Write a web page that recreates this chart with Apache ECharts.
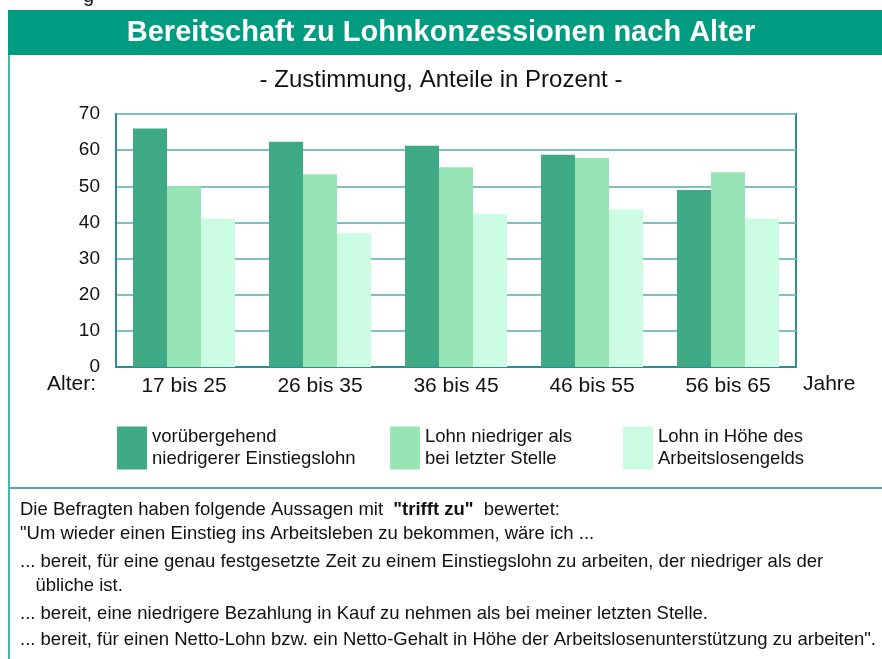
<!DOCTYPE html>
<html lang="de">
<head>
  <meta charset="UTF-8">
  <title>Bereitschaft zu Lohnkonzessionen nach Alter</title>
  <script src="https://cdn.jsdelivr.net/npm/echarts@6/dist/echarts.min.js"></script>
  <style>
    html, body { margin: 0; padding: 0; background: #fff; }
    #main { width: 882px; height: 659px; }
  </style>
</head>
<body>
<div id="main"></div>
<script>
  var myChart = echarts.init(document.getElementById('main'));

  // Altersgruppen
  const ageGroups = ['17 bis 25', '26 bis 35', '36 bis 45', '46 bis 55', '56 bis 65'];
  // Zustimmung in Prozent
  const einstiegslohn = [66, 62.3, 61.2, 58.7, 49];
  const letzteStelle = [50, 53.3, 55.3, 57.8, 53.9];
  const arbeitslosengeld = [41.1, 37, 42.4, 43.6, 41.1];
  const seriesNames = [
    'vorübergehend niedrigerer Einstiegslohn',
    'Lohn niedriger als bei letzter Stelle',
    'Lohn in Höhe des Arbeitslosengelds'
  ];
  const legendText = [
    'vorübergehend\nniedrigerer Einstiegslohn',
    'Lohn niedriger als\nbei letzter Stelle',
    'Lohn in Höhe des\nArbeitslosengelds'
  ];
  const yTicks = [0, 10, 20, 30, 40, 50, 60, 70];
  const footerLines = [
    '"Um wieder einen Einstieg ins Arbeitsleben zu bekommen, wäre ich ...',
    '... bereit, für eine genau festgesetzte Zeit zu einem Einstiegslohn zu arbeiten, der niedriger als der',
    '   übliche ist.',
    '... bereit, eine niedrigere Bezahlung in Kauf zu nehmen als bei meiner letzten Stelle.',
    '... bereit, für einen Netto-Lohn bzw. ein Netto-Gehalt in Höhe der Arbeitslosenunterstützung zu arbeiten".'
  ];

  const colors = ['#3daa85', '#97e4b4', '#cdfce4'];
  const font = 'Liberation Sans, Arial, sans-serif';

  function legendFor(i, left) {
    return {
      data: [seriesNames[i]],
      left: left,
      top: 420,
      itemWidth: 30,
      itemHeight: 43,
      itemGap: 0,
      icon: 'rect',
      selectedMode: false,
      formatter: function () { return legendText[i]; },
      textStyle: { fontFamily: font, fontSize: 18.5, color: '#111', lineHeight: 22, padding: [2, 0, 0, 0] }
    };
  }

  var footerGraphics = [
    {
      type: 'text', left: 20, top: 500,
      style: {
        text: 'Die Befragten haben folgende Aussagen mit  {b|"trifft zu"}  bewertet:',
        font: '18.5px ' + font, fill: '#111',
        rich: { b: { fontWeight: 'bold', fontSize: 18.5, fontFamily: font, fill: '#111' } }
      }
    }
  ];
  var footerTops = [524, 552, 576, 604, 630];
  footerLines.forEach(function (t, i) {
    footerGraphics.push({
      type: 'text', left: 20, top: footerTops[i],
      style: { text: t, font: '18.5px ' + font, fill: '#111' }
    });
  });

  myChart.setOption({
    animation: false,
    color: colors,
    textStyle: { fontFamily: font },
    title: {
      text: '- Zustimmung, Anteile in Prozent -',
      left: 'center',
      top: 63,
      textStyle: { fontFamily: font, fontSize: 24, fontWeight: 'normal', color: '#111' }
    },
    legend: [legendFor(0, 112), legendFor(1, 385), legendFor(2, 618)],
    grid: {
      left: 116, right: 86, top: 114, bottom: 292,
      show: true, borderColor: '#2a8f8c', borderWidth: 2
    },
    xAxis: {
      type: 'category',
      data: ageGroups,
      axisLine: { lineStyle: { color: '#2a8f8c', width: 2 } },
      axisTick: { show: false },
      axisLabel: { fontSize: 21, color: '#111', margin: 9, fontFamily: font }
    },
    yAxis: {
      type: 'value',
      min: 0, max: 70, interval: 10,
      axisLine: { show: true, lineStyle: { color: '#2a8f8c', width: 2 } },
      axisTick: { show: false },
      axisLabel: {
        fontSize: 19, color: '#111', margin: 16, fontFamily: font,
        formatter: function (v) { return yTicks.indexOf(v) >= 0 ? String(v) : ''; }
      },
      splitLine: { lineStyle: { color: '#7cc3bf', width: 2 } }
    },
    series: [
      { name: seriesNames[0], type: 'bar', data: einstiegslohn, barGap: '0%', barCategoryGap: '25%' },
      { name: seriesNames[1], type: 'bar', data: letzteStelle, barGap: '0%', barCategoryGap: '25%' },
      { name: seriesNames[2], type: 'bar', data: arbeitslosengeld, barGap: '0%', barCategoryGap: '25%' }
    ],
    graphic: [
      { type: 'text', left: 83, top: -14, style: { text: 'g', font: '20px ' + font, fill: '#111' } },
      { type: 'rect', shape: { x: 8, y: 10, width: 874, height: 45 }, style: { fill: '#009c82' } },
      { type: 'text', left: 'center', top: 18, style: { text: 'Bereitschaft zu Lohnkonzessionen nach Alter', font: 'bold 29px ' + font, fill: '#fff' } },
      { type: 'rect', shape: { x: 8, y: 55, width: 2, height: 604 }, style: { fill: '#3dbba6' } },
      { type: 'rect', shape: { x: 8, y: 487, width: 874, height: 2 }, style: { fill: '#4aaca7' } },
      { type: 'text', left: 47, top: 374, style: { text: 'Alter:', font: '21px ' + font, fill: '#111' } },
      { type: 'text', left: 803, top: 374, style: { text: 'Jahre', font: '21px ' + font, fill: '#111' } }
    ].concat(footerGraphics)
  });
</script>
</body>
</html>
